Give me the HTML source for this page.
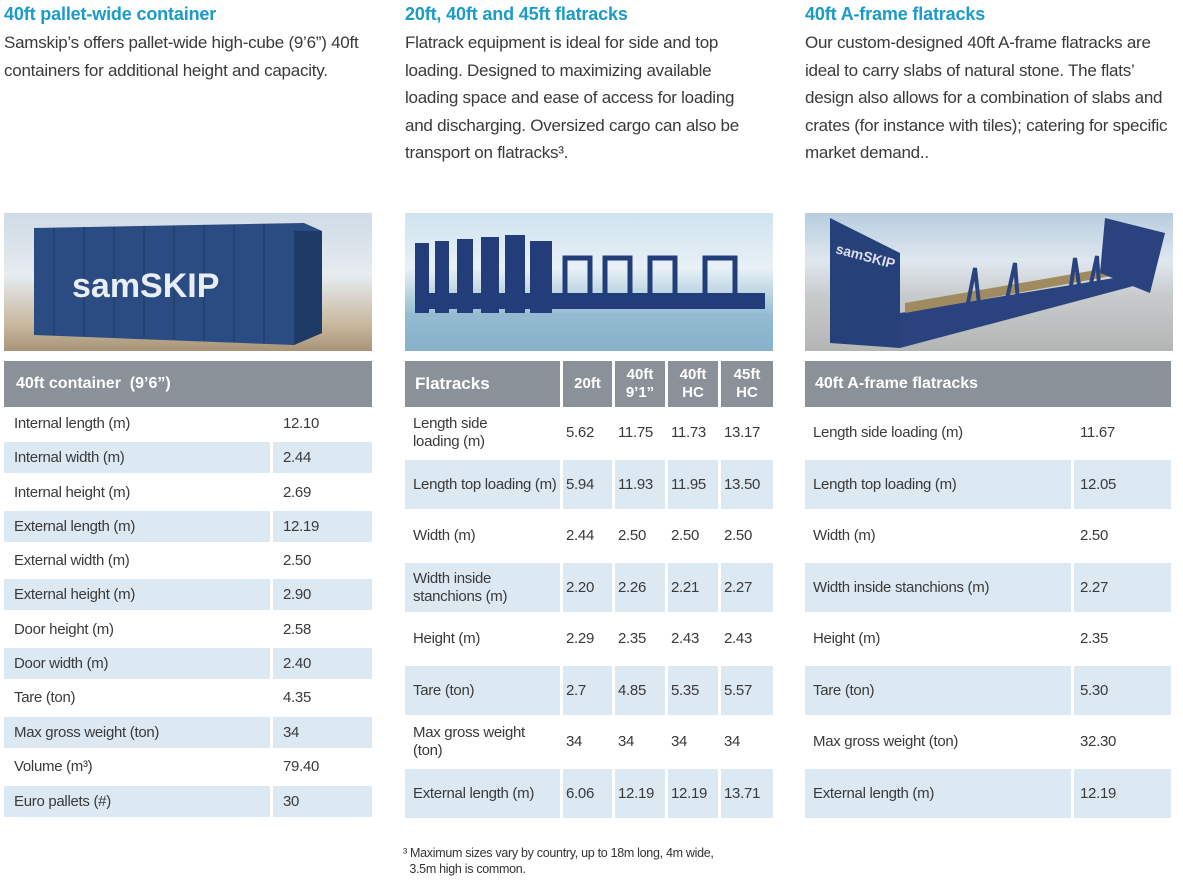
<!DOCTYPE html>
<html><head><meta charset="utf-8"><style>
*{margin:0;padding:0;box-sizing:border-box}
body{width:1183px;height:880px;background:#fff;position:relative;overflow:hidden;font-family:"Liberation Sans",sans-serif;color:#3c3c3c}
.t{position:absolute;font-weight:bold;color:#1b9bc8;font-size:18px;letter-spacing:-0.15px;white-space:nowrap}
.p{position:absolute;font-size:17px;line-height:27.5px;letter-spacing:-0.25px;white-space:nowrap;color:#3a3a3a}
.img{position:absolute;top:213px;height:138px;width:368px;overflow:hidden}
.hd{position:absolute;top:361px;height:46px;background:#8a9199;color:#fff;font-weight:bold;font-size:16px}
.r{position:absolute;font-size:15px;letter-spacing:-0.3px;color:#3a3a3a}
.b{background:#dce8f2}
.c{position:absolute;top:0;bottom:0;display:flex;align-items:center;padding-left:8px;line-height:18px}
.sep{position:absolute;top:0;bottom:0;width:3px;background:#fff}
.r1{left:4px;width:368px}
.r2{left:405px;width:368px}
.r3{left:805px;width:366px}
.w1{height:34px}.b1{height:31px}
.w2{height:51px}.b2{height:49px}
</style></head><body>

<div class="t" style="left:4px;top:4px">40ft pallet-wide container</div>
<div class="p" style="left:4px;top:29px">Samskip’s offers pallet-wide high-cube (9’6”) 40ft<br>containers for additional height and capacity.</div>

<div class="t" style="left:405px;top:4px">20ft, 40ft and 45ft flatracks</div>
<div class="p" style="left:405px;top:29px">Flatrack equipment is ideal for side and top<br>loading. Designed to maximizing available<br>loading space and ease of access for loading<br>and discharging. Oversized cargo can also be<br>transport on flatracks³.</div>

<div class="t" style="left:805px;top:4px">40ft A-frame flatracks</div>
<div class="p" style="left:805px;top:29px">Our custom-designed 40ft A-frame flatracks are<br>ideal to carry slabs of natural stone. The flats’<br>design also allows for a combination of slabs and<br>crates (for instance with tiles); catering for specific<br>market demand..</div>

<!-- images -->
<div class="img" style="left:4px;background:linear-gradient(#cfdbe6 0%,#e6ecf0 45%,#c9b9a0 80%,#a89478 100%)">
<svg width="368" height="138"><polygon points="30,15 300,10 318,18 318,120 290,132 30,122" fill="#2b4c82"/><polygon points="290,18 318,18 318,120 290,132" fill="#1e3a66"/>
<g stroke="#24426f" stroke-width="2">
<line x1="50" y1="15" x2="50" y2="122"/><line x1="80" y1="14" x2="80" y2="123"/><line x1="110" y1="14" x2="110" y2="124"/><line x1="140" y1="13" x2="140" y2="125"/><line x1="170" y1="13" x2="170" y2="126"/><line x1="200" y1="12" x2="200" y2="127"/><line x1="230" y1="12" x2="230" y2="128"/><line x1="260" y1="11" x2="260" y2="130"/></g>
<text x="68" y="84" fill="#e9eef5" font-family="Liberation Sans" font-weight="bold" font-size="34">samSKIP</text></svg></div>

<div class="img" style="left:405px;background:linear-gradient(#cfe3ef 0%,#e8f1f6 40%,#9fc3d6 70%,#7aa9c2 100%)">
<svg width="368" height="138"><g fill="#233d7a">
<rect x="10" y="30" width="14" height="70"/><rect x="30" y="28" width="14" height="72"/><rect x="52" y="26" width="16" height="74"/><rect x="76" y="24" width="18" height="76"/><rect x="100" y="22" width="20" height="78"/><rect x="125" y="28" width="22" height="72"/>
<rect x="20" y="80" width="340" height="16"/></g>
<g fill="none" stroke="#233d7a" stroke-width="5"><path d="M160 85V45H185V85M200 85V45H225V85M245 85V45H270V85M300 85V45H330V85"/></g>
<rect x="0" y="100" width="368" height="38" fill="#8fb8cf" opacity=".6"/></svg></div>

<div class="img" style="left:805px;background:linear-gradient(#b8cde0 0%,#dfe7ee 35%,#c8cbcc 60%,#b4b6b6 100%)">
<svg width="368" height="138"><polygon points="25,5 95,40 95,135 25,130" fill="#26407a"/>
<polygon points="95,100 340,60 340,70 95,135" fill="#2a437f"/>
<polygon points="100,100 335,58 320,52 100,90" fill="#a08a60"/>
<polygon points="300,5 360,20 345,80 295,60" fill="#2a437f"/>
<g stroke="#2a437f" stroke-width="4" fill="none"><path d="M160 105 L170 55 L175 100M200 95L210 50L213 90M265 80L270 45L275 78M285 75L292 43L294 72"/></g>
<text x="30" y="40" fill="#dde" font-family="Liberation Sans" font-weight="bold" font-size="14" transform="rotate(15 30 40)">samSKIP</text></svg></div>

<!-- table 1 -->
<div class="hd" style="left:4px;width:368px"><div class="c" style="left:4px;font-size:16px">40ft container&nbsp; (9’6”)</div></div>
<div class="r r1 w1" style="top:407px"><div class="c" style="left:2px">Internal length (m)</div><div class="c" style="left:271px">12.10</div></div>
<div class="r r1 b1 b" style="top:442px"><div class="c" style="left:2px">Internal width (m)</div><div class="sep" style="left:266px"></div><div class="c" style="left:271px">2.44</div></div>
<div class="r r1 w1" style="top:476px"><div class="c" style="left:2px">Internal height (m)</div><div class="c" style="left:271px">2.69</div></div>
<div class="r r1 b1 b" style="top:511px"><div class="c" style="left:2px">External length (m)</div><div class="sep" style="left:266px"></div><div class="c" style="left:271px">12.19</div></div>
<div class="r r1 w1" style="top:544px"><div class="c" style="left:2px">External width (m)</div><div class="c" style="left:271px">2.50</div></div>
<div class="r r1 b1 b" style="top:579px"><div class="c" style="left:2px">External height (m)</div><div class="sep" style="left:266px"></div><div class="c" style="left:271px">2.90</div></div>
<div class="r r1 w1" style="top:613px"><div class="c" style="left:2px">Door height (m)</div><div class="c" style="left:271px">2.58</div></div>
<div class="r r1 b1 b" style="top:648px"><div class="c" style="left:2px">Door width (m)</div><div class="sep" style="left:266px"></div><div class="c" style="left:271px">2.40</div></div>
<div class="r r1 w1" style="top:681px"><div class="c" style="left:2px">Tare (ton)</div><div class="c" style="left:271px">4.35</div></div>
<div class="r r1 b1 b" style="top:717px"><div class="c" style="left:2px">Max gross weight (ton)</div><div class="sep" style="left:266px"></div><div class="c" style="left:271px">34</div></div>
<div class="r r1 w1" style="top:750px"><div class="c" style="left:2px">Volume (m³)</div><div class="c" style="left:271px">79.40</div></div>
<div class="r r1 b1 b" style="top:786px"><div class="c" style="left:2px">Euro pallets (#)</div><div class="sep" style="left:266px"></div><div class="c" style="left:271px">30</div></div>

<!-- table 2 -->
<div class="hd" style="left:405px;width:368px">
<div class="c" style="left:2px;font-size:17px">Flatracks</div>
<div class="sep" style="left:155px"></div><div class="sep" style="left:207px"></div><div class="sep" style="left:260px"></div><div class="sep" style="left:313px"></div>
<div class="c" style="left:158px;width:49px;justify-content:center;padding:0;font-size:15px">20ft</div>
<div class="c" style="left:210px;width:50px;justify-content:center;padding:0;text-align:center;font-size:15px">40ft<br>9’1”</div>
<div class="c" style="left:263px;width:50px;justify-content:center;padding:0;text-align:center;font-size:15px">40ft<br>HC</div>
<div class="c" style="left:316px;width:52px;justify-content:center;padding:0;text-align:center;font-size:15px">45ft<br>HC</div>
</div>
<div class="r r2 w2" style="top:407px"><div class="c" style="left:0">Length side<br>loading (m)</div><div class="c" style="left:153px">5.62</div><div class="c" style="left:205px">11.75</div><div class="c" style="left:258px">11.73</div><div class="c" style="left:311px">13.17</div></div>
<div class="r r2 b2 b" style="top:460px"><div class="c" style="left:0">Length top loading (m)</div><div class="sep" style="left:155px"></div><div class="sep" style="left:207px"></div><div class="sep" style="left:260px"></div><div class="sep" style="left:313px"></div><div class="c" style="left:153px">5.94</div><div class="c" style="left:205px">11.93</div><div class="c" style="left:258px">11.95</div><div class="c" style="left:311px">13.50</div></div>
<div class="r r2 w2" style="top:510px"><div class="c" style="left:0">Width (m)</div><div class="c" style="left:153px">2.44</div><div class="c" style="left:205px">2.50</div><div class="c" style="left:258px">2.50</div><div class="c" style="left:311px">2.50</div></div>
<div class="r r2 b2 b" style="top:563px"><div class="c" style="left:0">Width inside<br>stanchions (m)</div><div class="sep" style="left:155px"></div><div class="sep" style="left:207px"></div><div class="sep" style="left:260px"></div><div class="sep" style="left:313px"></div><div class="c" style="left:153px">2.20</div><div class="c" style="left:205px">2.26</div><div class="c" style="left:258px">2.21</div><div class="c" style="left:311px">2.27</div></div>
<div class="r r2 w2" style="top:613px"><div class="c" style="left:0">Height (m)</div><div class="c" style="left:153px">2.29</div><div class="c" style="left:205px">2.35</div><div class="c" style="left:258px">2.43</div><div class="c" style="left:311px">2.43</div></div>
<div class="r r2 b2 b" style="top:666px"><div class="c" style="left:0">Tare (ton)</div><div class="sep" style="left:155px"></div><div class="sep" style="left:207px"></div><div class="sep" style="left:260px"></div><div class="sep" style="left:313px"></div><div class="c" style="left:153px">2.7</div><div class="c" style="left:205px">4.85</div><div class="c" style="left:258px">5.35</div><div class="c" style="left:311px">5.57</div></div>
<div class="r r2 w2" style="top:716px"><div class="c" style="left:0">Max gross weight<br>(ton)</div><div class="c" style="left:153px">34</div><div class="c" style="left:205px">34</div><div class="c" style="left:258px">34</div><div class="c" style="left:311px">34</div></div>
<div class="r r2 b2 b" style="top:769px"><div class="c" style="left:0">External length (m)</div><div class="sep" style="left:155px"></div><div class="sep" style="left:207px"></div><div class="sep" style="left:260px"></div><div class="sep" style="left:313px"></div><div class="c" style="left:153px">6.06</div><div class="c" style="left:205px">12.19</div><div class="c" style="left:258px">12.19</div><div class="c" style="left:311px">13.71</div></div>

<!-- table 3 -->
<div class="hd" style="left:805px;width:366px"><div class="c" style="left:2px;font-size:16px">40ft A-frame flatracks</div></div>
<div class="r r3 w2" style="top:407px"><div class="c" style="left:0">Length side loading (m)</div><div class="c" style="left:267px">11.67</div></div>
<div class="r r3 b2 b" style="top:460px"><div class="c" style="left:0">Length top loading (m)</div><div class="sep" style="left:266px"></div><div class="c" style="left:267px">12.05</div></div>
<div class="r r3 w2" style="top:510px"><div class="c" style="left:0">Width (m)</div><div class="c" style="left:267px">2.50</div></div>
<div class="r r3 b2 b" style="top:563px"><div class="c" style="left:0">Width inside stanchions (m)</div><div class="sep" style="left:266px"></div><div class="c" style="left:267px">2.27</div></div>
<div class="r r3 w2" style="top:613px"><div class="c" style="left:0">Height (m)</div><div class="c" style="left:267px">2.35</div></div>
<div class="r r3 b2 b" style="top:666px"><div class="c" style="left:0">Tare (ton)</div><div class="sep" style="left:266px"></div><div class="c" style="left:267px">5.30</div></div>
<div class="r r3 w2" style="top:716px"><div class="c" style="left:0">Max gross weight (ton)</div><div class="c" style="left:267px">32.30</div></div>
<div class="r r3 b2 b" style="top:769px"><div class="c" style="left:0">External length (m)</div><div class="sep" style="left:266px"></div><div class="c" style="left:267px">12.19</div></div>

<div style="position:absolute;left:403px;top:845px;font-size:12.5px;line-height:16px;letter-spacing:-0.3px;color:#333">³ Maximum sizes vary by country, up to 18m long, 4m wide,<br>&nbsp;&nbsp;3.5m high is common.</div>
</body></html>
